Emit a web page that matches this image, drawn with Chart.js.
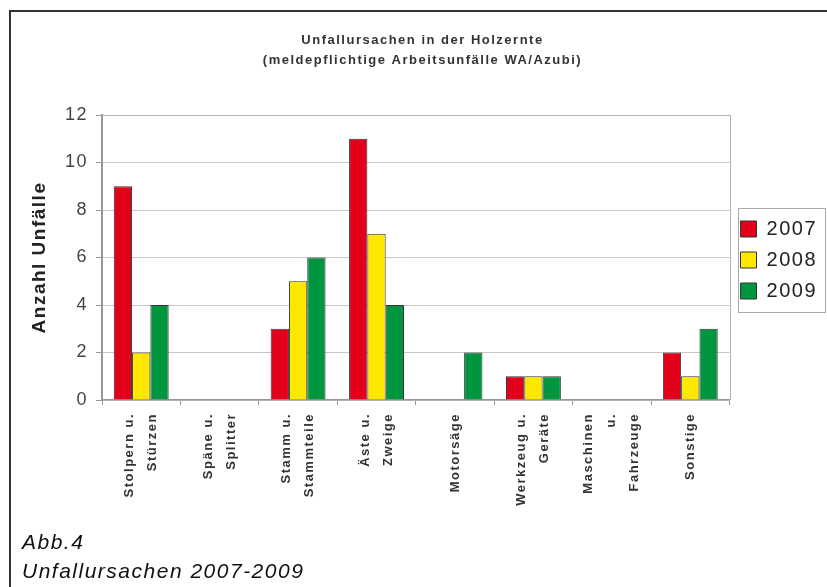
<!DOCTYPE html>
<html>
<head>
<meta charset="utf-8">
<script src="https://cdn.jsdelivr.net/npm/chart.js@4"></script>
<style>
html, body { margin: 0; padding: 0; background: #fff; }
body { width: 827px; height: 587px; position: relative; overflow: hidden; }
#frame { position: absolute; left: 9px; top: 10px; width: 900px; height: 700px;
         border-left: 2px solid #333; border-top: 2px solid #333; }
#chart { position: absolute; left: 0; top: 0; }
#caption { position: absolute; left: 22px; top: 527px; color: #111;
           font: italic 21px "Liberation Sans", Arial, sans-serif;
           line-height: 29px; letter-spacing: 1.5px; }
</style>
</head>
<body>
<div id="frame"></div>
<canvas id="chart" width="827" height="587"></canvas>
<div id="caption">Abb.4<br>Unfallursachen 2007-2009</div>
<script>
// Data
var categories = [
    ['Stolpern u.', 'Stürzen'],
    ['Späne u.', 'Splitter'],
    ['Stamm u.', 'Stammteile'],
    ['Äste u.', 'Zweige'],
    ['Motorsäge'],
    ['Werkzeug u.', 'Geräte'],
    ['Maschinen', 'u.', 'Fahrzeuge'],
    ['Sonstige']
];
var years = ['2007', '2008', '2009'];
var values2007 = [9, 0, 3, 11, 0, 1, 0, 2];
var values2008 = [2, 0, 5, 7, 0, 1, 0, 1];
var values2009 = [4, 0, 6, 4, 2, 1, 0, 3];
var yTicks = [0, 2, 4, 6, 8, 10, 12];
var titleLines = ['Unfallursachen in der Holzernte', '(meldepflichtige Arbeitsunfälle WA/Azubi)'];
var yTitle = 'Anzahl Unfälle';

var FONT = '"Liberation Sans", Arial, sans-serif';
var LINE = 23;   // spacing between the lines of an x label

Chart.defaults.font.family = FONT;

// the source text is slightly letter-spaced, and the frames round plot and legend
var decor = {
    id: 'decor',
    beforeLayout: function (chart) { chart.ctx.letterSpacing = '1.5px'; },
    beforeDraw: function (chart) { chart.ctx.letterSpacing = '1.5px'; },
    beforeDatasetsDraw: function (chart) {
        var a = chart.chartArea, ctx = chart.ctx;
        ctx.save();
        ctx.strokeStyle = '#b0b0b0';
        ctx.lineWidth = 1;
        ctx.beginPath();
        ctx.moveTo(a.left, Math.round(a.top) + 0.5);
        ctx.lineTo(Math.round(a.right) + 0.5, Math.round(a.top) + 0.5);
        ctx.lineTo(Math.round(a.right) + 0.5, a.bottom);
        ctx.stroke();
        ctx.restore();
    },
    afterDraw: function (chart) {
        var boxes = chart.legend.legendHitBoxes;
        if (!boxes || !boxes.length) return;
        var first = boxes[0], last = boxes[boxes.length - 1];
        var ctx = chart.ctx;
        ctx.save();
        ctx.strokeStyle = '#aaaaaa';
        ctx.lineWidth = 1;
        var l = Math.round(first.left - 3) + 0.5;
        var t = Math.round(first.top - 11) + 0.5;
        var b = Math.round(last.top + last.height + 11) + 0.5;
        ctx.strokeRect(l, t, 825.5 - l, b - t);
        ctx.restore();
    }
};

var ctx = document.getElementById('chart').getContext('2d');

var chart = new Chart(ctx, {
    type: 'bar',
    data: {
        labels: categories,
        datasets: [{
            label: years[0],
            data: values2007,
            backgroundColor: '#e3001b',
            borderColor: '#333333',
            borderWidth: 1
        }, {
            label: years[1],
            data: values2008,
            backgroundColor: '#ffe800',
            borderColor: '#333333',
            borderWidth: 1
        }, {
            label: years[2],
            data: values2009,
            backgroundColor: '#009640',
            borderColor: '#333333',
            borderWidth: 1
        }]
    },
    options: {
        responsive: false,
        animation: false,
        devicePixelRatio: 1,
        layout: { padding: { left: 18, top: 0, right: 0, bottom: 0 } },
        datasets: {
            bar: { categoryPercentage: 0.7, barPercentage: 1.0 }
        },
        scales: {
            x: {
                offset: true,
                afterFit: function (scale) { scale.height = 187; },
                grid: {
                    offset: true,
                    drawOnChartArea: false,
                    drawTicks: true,
                    tickLength: 5,
                    tickColor: '#999'
                },
                border: { color: '#999', width: 1.5 },
                ticks: {
                    autoSkip: false,
                    minRotation: 90,
                    maxRotation: 90,
                    padding: 8,
                    labelOffset: -LINE,
                    color: '#333',
                    // pad the lines so every label sits centred on its category
                    callback: function (value, index) {
                        var c = categories[index];
                        if (c.length === 1) return ['', c[0]];
                        if (c.length === 2) return ['', c[0], '', c[1]];
                        return c;
                    },
                    font: function (context) {
                        var n = categories[context.index] ? categories[context.index].length : 1;
                        return {
                            family: FONT,
                            size: 13,
                            weight: 'bold',
                            lineHeight: (n === 2 ? LINE / 2 : LINE) + 'px'
                        };
                    }
                }
            },
            y: {
                min: 0,
                max: 12,
                afterFit: function (scale) { scale.width = 84; },
                afterBuildTicks: function (scale) {
                    scale.ticks = yTicks.map(function (v) { return { value: v }; });
                },
                grid: {
                    color: '#c8c8c8',
                    tickColor: '#999',
                    tickLength: 6
                },
                border: { color: '#999', width: 2 },
                ticks: {
                    padding: 8,
                    color: '#444',
                    font: { size: 18 }
                },
                title: {
                    display: true,
                    text: yTitle,
                    color: '#222',
                    font: { size: 19, weight: 'bold' },
                    padding: { top: 10, bottom: 0 }
                }
            }
        },
        plugins: {
            title: {
                display: true,
                text: titleLines,
                color: '#333',
                font: { size: 13, weight: 'bold', lineHeight: '20px' },
                padding: { top: 30, bottom: 45 }
            },
            legend: {
                position: 'right',
                align: 'start',
                // empty title only pushes the items down to where the source has them
                title: {
                    display: true,
                    text: '',
                    font: { size: 10, lineHeight: '10px' },
                    padding: { top: 198, bottom: 0 }
                },
                labels: {
                    boxWidth: 16,
                    boxHeight: 16,
                    padding: 11,
                    color: '#222',
                    font: { size: 20 }
                }
            },
            tooltip: { enabled: false }
        }
    },
    plugins: [decor]
});
</script>
</body>
</html>
